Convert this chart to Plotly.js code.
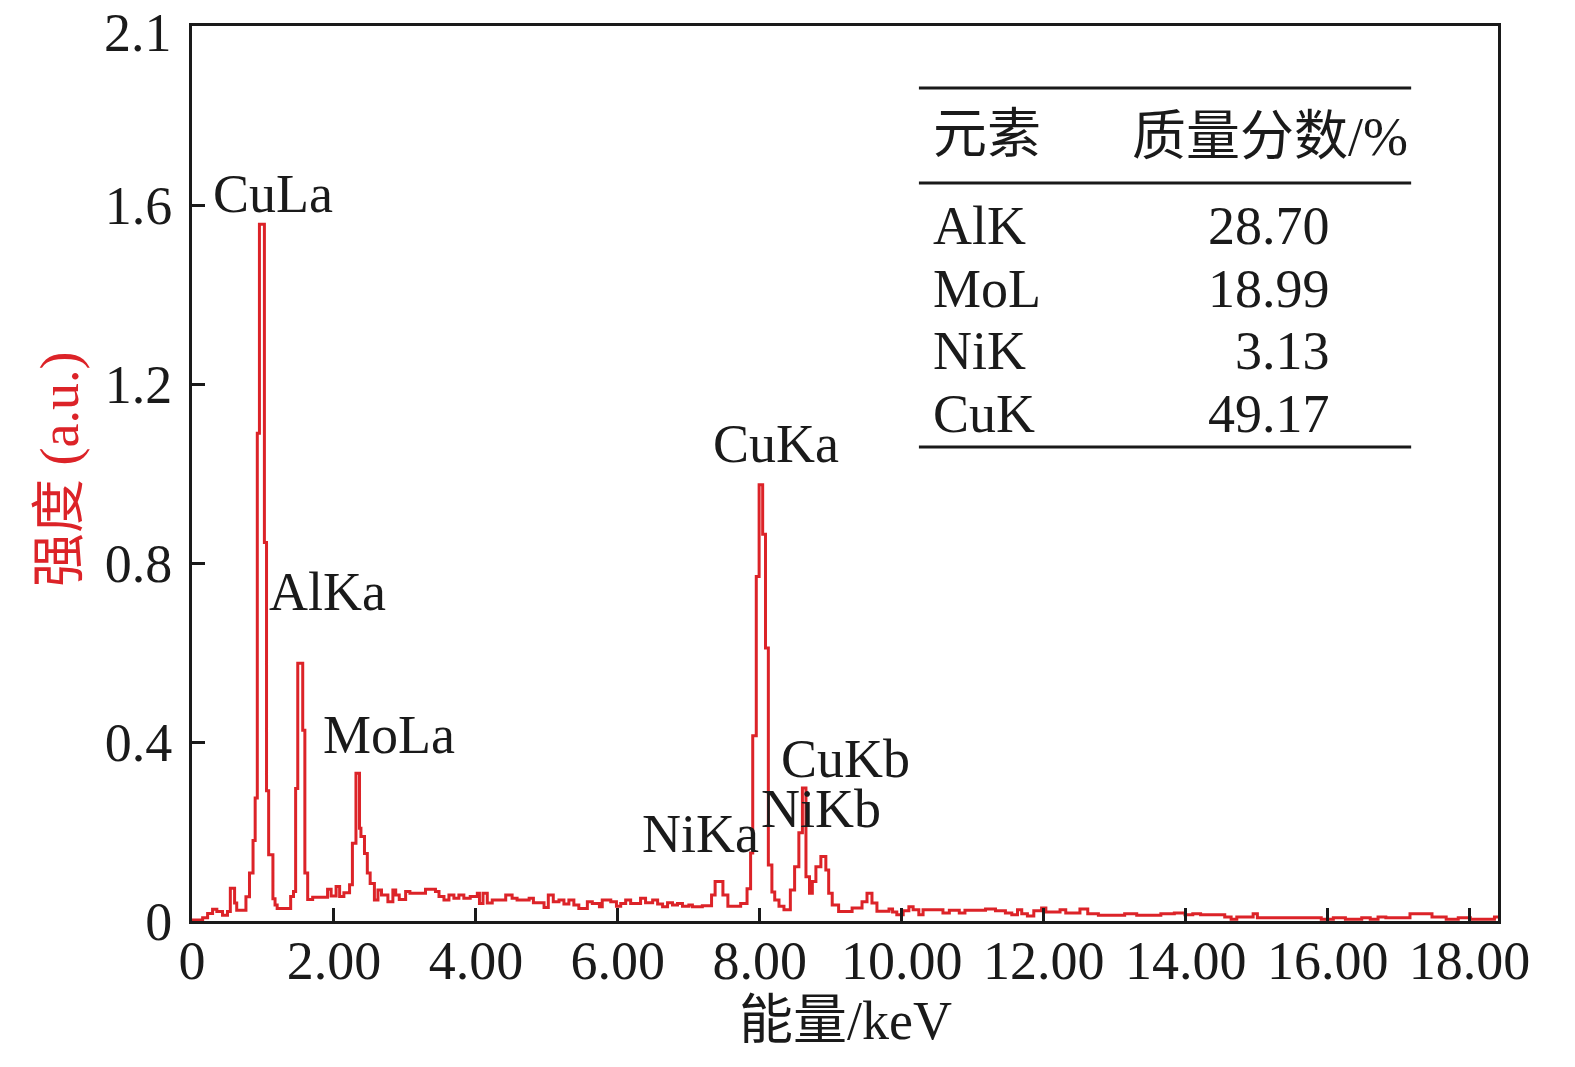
<!DOCTYPE html>
<html>
<head>
<meta charset="utf-8">
<script src="https://cdn.plot.ly/plotly-3.0.1.min.js"></script>
<style>
  html, body { margin: 0; padding: 0; background: #fff; }
  #eds-plot { width: 1575px; height: 1067px; }
</style>
</head>
<body>
<div id="eds-plot"></div>
<script>
// ── Spectrum (start energy in keV, intensity in a.u.) ──
const stepEnergy = [
    0.00, 0.15, 0.22, 0.29, 0.35, 0.43, 0.50, 0.54, 0.60, 0.63,
    0.76, 0.81, 0.86, 0.89, 0.92, 0.95, 1.02, 1.05, 1.08, 1.14,
    1.17, 1.20, 1.39, 1.43, 1.46, 1.49, 1.56, 1.59, 1.63, 1.70,
    1.91, 1.96, 2.03, 2.08, 2.14, 2.22, 2.26, 2.31, 2.36, 2.38,
    2.43, 2.47, 2.51, 2.57, 2.62, 2.67, 2.76, 2.83, 2.87, 2.92,
    3.01, 3.07, 3.29, 3.43, 3.48, 3.55, 3.62, 3.69, 3.76, 3.83,
    3.92, 4.02, 4.05, 4.10, 4.16, 4.23, 4.42, 4.51, 4.58, 4.75,
    4.81, 4.96, 5.02, 5.09, 5.17, 5.24, 5.31, 5.38, 5.45, 5.57,
    5.64, 5.74, 5.78, 5.90, 5.98, 6.04, 6.11, 6.18, 6.32, 6.39,
    6.49, 6.56, 6.63, 6.70, 6.77, 6.84, 6.91, 7.00, 7.05, 7.19,
    7.32, 7.37, 7.48, 7.55, 7.73, 7.82, 7.87, 7.90, 7.95, 7.99,
    8.04, 8.08, 8.12, 8.17, 8.21, 8.27, 8.34, 8.43, 8.49, 8.55,
    8.60, 8.65, 8.70, 8.74, 8.79, 8.86, 8.93, 8.97, 9.02, 9.11,
    9.30, 9.44, 9.51, 9.58, 9.65, 9.82, 9.87, 9.93, 10.02, 10.10,
    10.16, 10.24, 10.30, 10.58, 10.67, 10.81, 10.89, 11.18, 11.32, 11.46,
    11.55, 11.63, 11.69, 11.77, 11.86, 11.97, 12.03, 12.23, 12.31, 12.51,
    12.62, 12.77, 13.14, 13.31, 13.65, 13.84, 13.99, 14.10, 14.21, 14.55,
    14.64, 14.72, 14.95, 15.01, 15.91, 16.08, 16.25, 16.48, 16.60, 16.71,
    16.82, 17.16, 17.47, 17.67, 17.84, 18.01, 18.35, 18.40
];
const stepIntensity = [
    0.002, 0.007, 0.017, 0.026, 0.021, 0.013, 0.021, 0.073, 0.040, 0.024,
    0.054, 0.107, 0.180, 0.275, 1.090, 1.557, 0.846, 0.291, 0.148, 0.050,
    0.036, 0.028, 0.055, 0.066, 0.296, 0.576, 0.426, 0.107, 0.048, 0.053,
    0.071, 0.056, 0.077, 0.055, 0.063, 0.081, 0.174, 0.330, 0.207, 0.189,
    0.151, 0.107, 0.084, 0.047, 0.069, 0.058, 0.043, 0.069, 0.058, 0.048,
    0.066, 0.062, 0.071, 0.066, 0.055, 0.047, 0.058, 0.051, 0.058, 0.051,
    0.055, 0.062, 0.039, 0.062, 0.040, 0.047, 0.058, 0.051, 0.047, 0.051,
    0.041, 0.030, 0.058, 0.043, 0.047, 0.038, 0.047, 0.036, 0.028, 0.043,
    0.039, 0.032, 0.047, 0.043, 0.033, 0.039, 0.047, 0.039, 0.051, 0.041,
    0.047, 0.038, 0.032, 0.041, 0.036, 0.039, 0.033, 0.036, 0.032, 0.034,
    0.058, 0.088, 0.058, 0.033, 0.039, 0.072, 0.152, 0.414, 0.770, 0.975,
    0.864, 0.610, 0.125, 0.065, 0.047, 0.033, 0.025, 0.069, 0.121, 0.197,
    0.297, 0.099, 0.062, 0.088, 0.121, 0.144, 0.114, 0.062, 0.036, 0.021,
    0.029, 0.043, 0.062, 0.040, 0.022, 0.027, 0.020, 0.014, 0.023, 0.032,
    0.025, 0.014, 0.025, 0.018, 0.024, 0.018, 0.024, 0.027, 0.023, 0.018,
    0.014, 0.025, 0.016, 0.011, 0.023, 0.029, 0.020, 0.025, 0.018, 0.027,
    0.016, 0.013, 0.016, 0.013, 0.016, 0.018, 0.014, 0.016, 0.014, 0.009,
    0.004, 0.009, 0.016, 0.007, 0.004, 0.007, 0.004, 0.007, 0.004, 0.009,
    0.007, 0.016, 0.009, 0.004, 0.007, 0.004, 0.009, 0.009
];

// ── Peak labels ──────────────────────────────────────────────────────
const peakNames = ['CuLa', 'AlKa', 'MoLa', 'NiKa', 'CuKa', 'CuKb', 'NiKb'];
// left edge (keV) and vertical centre (a.u.) of each label
const peakLabelAt = [
    [0.27, 1.625], [1.06, 0.735], [1.82, 0.415], [6.31, 0.195],
    [7.31, 1.066], [8.27, 0.361], [7.99, 0.251]
];

// ── Axis ticks ───────────────────────────────────────────────────────
const xTickVals = [0, 2, 4, 6, 8, 10, 12, 14, 16, 18];
const xTickText = ['0', '2.00', '4.00', '6.00', '8.00', '10.00', '12.00', '14.00', '16.00', '18.00'];
const yTickVals = [0, 0.4, 0.8, 1.2, 1.6];
const yTickText = ['0', '0.4', '0.8', '1.2', '1.6'];
// the top label of the original has no tick mark, it sits just under the frame
const yTopLabel = '2.1';

// ── Inset table ──────────────────────────────────────────────────────
const tableHeader = ['元素', '质量分数/%'];
const tableElements = ['AlK', 'MoL', 'NiK', 'CuK'];
const tableMassFraction = [28.70, 18.99, 3.13, 49.17];

const RED = '#dc2328';
const INK = '#1a1a1a';
const FONT = '"Liberation Serif", "Times New Roman", "Noto Sans CJK SC", serif';
const TEXT_SIZE = 54;

function buildAnnotations() {
    const notes = [];
    const textFont = { family: FONT, size: TEXT_SIZE, color: INK };

    peakNames.forEach((name, i) => {
        notes.push({
            text: name,
            x: peakLabelAt[i][0], y: peakLabelAt[i][1],
            xref: 'x', yref: 'y',
            xanchor: 'left', yanchor: 'middle',
            showarrow: false,
            font: textFont
        });
    });

    // top y label, drawn like a tick label
    notes.push({
        text: yTopLabel, x: 0, y: 1.985,
        xref: 'paper', yref: 'y', xanchor: 'right', yanchor: 'middle',
        xshift: -18, showarrow: false, font: textFont
    });

    // table header
    notes.push({
        text: tableHeader[0], x: 0.566, y: 0.878,
        xref: 'paper', yref: 'paper', xanchor: 'left', yanchor: 'middle',
        showarrow: false, font: textFont
    });
    notes.push({
        text: tableHeader[1], x: 0.933, y: 0.876,
        xref: 'paper', yref: 'paper', xanchor: 'right', yanchor: 'middle',
        showarrow: false, font: textFont
    });

    // table rows
    const rowTop = 0.776;
    const rowStep = 0.0697;
    tableElements.forEach((el, i) => {
        const y = rowTop - i * rowStep;
        notes.push({
            text: el, x: 0.566, y: y,
            xref: 'paper', yref: 'paper', xanchor: 'left', yanchor: 'middle',
            showarrow: false, font: textFont
        });
        notes.push({
            text: tableMassFraction[i].toFixed(2), x: 0.873, y: y,
            xref: 'paper', yref: 'paper', xanchor: 'right', yanchor: 'middle',
            showarrow: false, font: textFont
        });
    });

    // axis titles
    notes.push({
        text: '能量/keV', x: 0.5, y: -0.112,
        xref: 'paper', yref: 'paper', xanchor: 'center', yanchor: 'middle',
        showarrow: false, font: textFont
    });
    notes.push({
        text: '强度 (a.u.)', x: -0.101, y: 0.504, textangle: -90,
        xref: 'paper', yref: 'paper', xanchor: 'center', yanchor: 'middle',
        showarrow: false, font: { family: FONT, size: TEXT_SIZE, color: RED }
    });
    return notes;
}

function tableRule(y) {
    return {
        type: 'line', xref: 'paper', yref: 'paper',
        x0: 0.5566, x1: 0.9335, y0: y, y1: y,
        line: { color: INK, width: 3 }
    };
}

const spectrumTrace = {
    x: stepEnergy,
    y: stepIntensity,
    type: 'scatter',
    mode: 'lines',
    line: { color: RED, width: 3, shape: 'hv' },
    hoverinfo: 'skip',
    showlegend: false
};

const axisCommon = {
    showline: true,
    linewidth: 3,
    linecolor: INK,
    mirror: true,
    ticks: 'inside',
    ticklen: 13,
    tickwidth: 3,
    tickcolor: INK,
    showgrid: false,
    zeroline: false,
    tickmode: 'array',
    tickfont: { family: FONT, size: TEXT_SIZE, color: INK }
};

const layout = {
    width: 1575,
    height: 1067,
    margin: { l: 192, r: 77, t: 26, b: 146 },
    paper_bgcolor: '#ffffff',
    plot_bgcolor: '#ffffff',
    xaxis: Object.assign({}, axisCommon, {
        range: [0, 18.4],
        tickvals: xTickVals,
        ticktext: xTickText,
        ticklabelstandoff: -10
    }),
    yaxis: Object.assign({}, axisCommon, {
        range: [0, 2.0],
        tickvals: yTickVals,
        ticktext: yTickText,
        ticklabelstandoff: 6
    }),
    shapes: [tableRule(0.9307), tableRule(0.8246), tableRule(0.5296)],
    annotations: buildAnnotations(),
    showlegend: false
};

Plotly.newPlot('eds-plot', [spectrumTrace], layout, { staticPlot: true });
</script>
</body>
</html>
